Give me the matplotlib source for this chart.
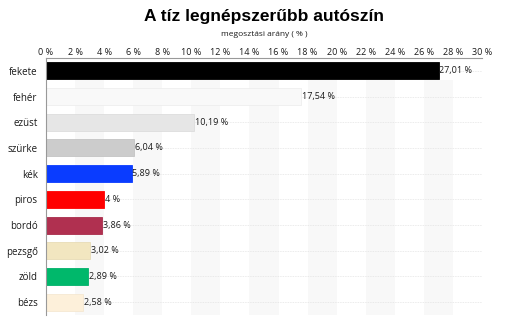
import matplotlib
matplotlib.use("Agg")
import matplotlib.pyplot as plt

categories = ["fekete", "fehér", "ezüst", "szürke", "kék", "piros", "bordó", "pezsgő", "zöld", "bézs"]
values = [27.01, 17.54, 10.19, 6.04, 5.89, 4.00, 3.86, 3.02, 2.89, 2.58]
labels = ["27,01 %", "17,54 %", "10,19 %", "6,04 %", "5,89 %", "4 %", "3,86 %", "3,02 %", "2,89 %", "2,58 %"]
colors = ["#000000", "#f9f9f9", "#e6e6e6", "#cccccc", "#0a3cff", "#ff0000", "#b03050", "#f2e6c0", "#00b86b", "#fdf0da"]
edges = ["#000000", "#eeeeee", "#dddddd", "#c4c4c4", "#0a3cff", "#ff0000", "#a82c4a", "#e8dcb6", "#00b06a", "#f5e8d2"]
ticks = list(range(0, 31, 2))
tick_labels = [f"{t} %" for t in ticks]

plt.rcParams['font.family'] = ['Open Sans', 'DejaVu Sans']

fig = plt.figure(figsize=(5.05, 3.31), dpi=100)
ax = fig.add_axes([46/505, 1-315/331, (482-46)/505, (315-58)/331])

n = len(categories)
ypos = list(range(n))
ax.set_xlim(0, 30)
ax.set_ylim(n - 0.5, -0.5)

for s in range(2, 30, 4):
    ax.axvspan(s, s + 2, ymin=0, ymax=0.914, color="#f8f8f8", zorder=0, lw=0)
for y in ypos:
    ax.axhline(y, color="#e4e4e4", lw=0.6, ls=(0, (1, 1)), zorder=0.5)
ax.axvline(30, ymin=0, ymax=1, color="#e8e8e8", lw=0.6, ls=(0, (1, 1)), zorder=0.5)

ax.barh(ypos, values, height=0.66, color=colors, edgecolor=edges, lw=0.6, zorder=2)
for y, v, l in zip(ypos, values, labels):
    ax.text(v + 0.05, y, l, va="center", ha="left", fontsize=6.5, color="#1a1a1a", zorder=3)

ax.xaxis.tick_top()
ax.set_xticks(ticks)
ax.set_xticklabels(tick_labels, fontsize=6.5, color="#1a1a1a")
ax.tick_params(axis="x", length=0, pad=1)
ax.set_yticks(ypos)
ax.set_yticklabels(categories, fontsize=7, color="#1a1a1a")
ax.tick_params(axis="y", length=0, pad=6)

for side in ["right", "bottom"]:
    ax.spines[side].set_visible(False)
ax.spines["top"].set_color("#999999")
ax.spines["top"].set_linewidth(0.8)
ax.spines["left"].set_color("#999999")
ax.spines["left"].set_linewidth(0.8)

fig.text(264/505, 1-17/331, "A tíz legnépszerűbb autószín", ha="center", va="center",
         fontsize=12.5, fontweight="bold", family="Liberation Sans")
fig.text(264/505, 1-34/331, "megosztási arány ( % )", ha="center", va="center", fontsize=6, color="#1a1a1a")

fig.savefig("out.png", dpi=100)
